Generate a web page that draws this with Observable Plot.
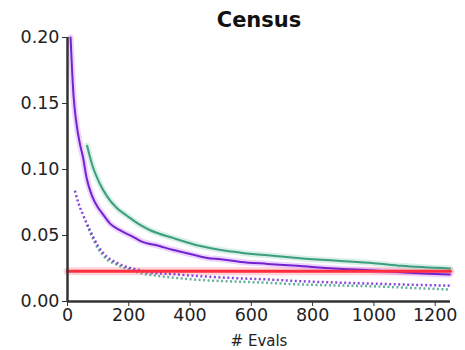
<!DOCTYPE html>
<html><head><meta charset="utf-8">
<script src="https://cdn.jsdelivr.net/npm/d3@7"></script>
<script src="https://cdn.jsdelivr.net/npm/@observablehq/plot@0.6"></script>
<style>body{margin:0;background:#fff}</style>
</head><body><div id="chart"></div>
<script>
const title = "Census";
const xLabel = "# Evals";
const xTicks = [0, 200, 400, 600, 800, 1000, 1200];
const yTicks = [0, 0.05, 0.10, 0.15, 0.20];

const purpleSolidX = [10, 15, 20, 28, 40, 50, 63, 80, 100, 116, 139, 171, 214, 237, 300, 346, 400, 456, 500, 565, 653, 750, 871, 1000, 1100, 1248];
const purpleSolidY = [0.200, 0.175, 0.155, 0.137, 0.120, 0.110, 0.093, 0.080, 0.071, 0.066, 0.059, 0.054, 0.049, 0.046, 0.042, 0.039, 0.036, 0.033, 0.032, 0.030, 0.0285, 0.027, 0.025, 0.0235, 0.022, 0.0205];

const greenSolidX = [64, 80, 106, 128, 160, 194, 237, 270, 346, 434, 500, 565, 653, 750, 871, 1000, 1090, 1248];
const greenSolidY = [0.118, 0.104, 0.089, 0.080, 0.071, 0.065, 0.058, 0.054, 0.048, 0.042, 0.039, 0.037, 0.035, 0.033, 0.031, 0.029, 0.027, 0.025];

const purpleDotX = [24, 35, 50, 73, 100, 128, 155, 183, 230, 270, 330, 401, 480, 565, 653, 750, 871, 1000, 1100, 1248];
const purpleDotY = [0.084, 0.075, 0.066, 0.054, 0.042, 0.034, 0.030, 0.027, 0.024, 0.022, 0.021, 0.0197, 0.0185, 0.0175, 0.0167, 0.0155, 0.0144, 0.0135, 0.0128, 0.012];

const greenDotX = [64, 100, 128, 160, 204, 250, 293, 350, 456, 565, 653, 750, 871, 1000, 1100, 1248];
const greenDotY = [0.058, 0.040, 0.032, 0.028, 0.024, 0.021, 0.0195, 0.018, 0.016, 0.015, 0.0142, 0.013, 0.0122, 0.0115, 0.0105, 0.0091];

const baselineX = [0, 1250];
const baselineY = [0.023, 0.023];

const toRows = (xs, ys) => xs.map((x, i) => ({x, y: ys[i]}));
const pS = toRows(purpleSolidX, purpleSolidY);
const gS = toRows(greenSolidX, greenSolidY);
const pD = toRows(purpleDotX, purpleDotY);
const gD = toRows(greenDotX, greenDotY);
const base = toRows(baselineX, baselineY);

const PURPLE = "#7322d0", GREEN = "#3a9f7e", RED = "#ff2f3f";

const chart = Plot.plot({
  width: 465, height: 350,
  marginLeft: 67, marginRight: 15, marginTop: 37, marginBottom: 49,
  style: {fontFamily: "DejaVu Sans", background: "#fff", overflow: "visible"},
  x: {domain: [0, 1250]},
  y: {domain: [0, 0.2]},
  marks: [
    Plot.line(base, {x: "x", y: "y", stroke: RED, strokeWidth: 8, strokeOpacity: 0.2}),
    Plot.line(gS, {x: "x", y: "y", stroke: GREEN, strokeWidth: 6, strokeOpacity: 0.18, curve: "monotone-x"}),
    Plot.line(pS, {x: "x", y: "y", stroke: "#c070ff", strokeWidth: 6, strokeOpacity: 0.3, curve: "monotone-x"}),
    Plot.line(gD, {x: "x", y: "y", stroke: GREEN, strokeWidth: 2.5, strokeDasharray: "2,2.5", strokeLinecap: "butt", strokeOpacity: 0.8, curve: "monotone-x"}),
    Plot.line(pD, {x: "x", y: "y", stroke: "#7a35d8", strokeWidth: 2.5, strokeDasharray: "2,2.5", strokeLinecap: "butt", strokeOpacity: 0.9, curve: "monotone-x"}),
    Plot.line(gS, {x: "x", y: "y", stroke: GREEN, strokeWidth: 2, curve: "monotone-x"}),
    Plot.line(pS, {x: "x", y: "y", stroke: PURPLE, strokeWidth: 2, curve: "monotone-x"}),
    Plot.line(base, {x: "x", y: "y", stroke: RED, strokeWidth: 3}),
    Plot.axisY({ticks: yTicks, tickFormat: d3.format(".2f"), tickSize: 5, tickPadding: 3, fontSize: 17.5, color: "#222", label: null, stroke: "#333"}),
    Plot.axisX({ticks: xTicks, tickFormat: d => String(d), tickSize: 5, tickPadding: 2, fontSize: 17.5, color: "#222", label: null, stroke: "#333"}),
    Plot.ruleX([0], {stroke: "#333", strokeWidth: 2.5}),
    Plot.ruleY([0], {stroke: "#333", strokeWidth: 2.5}),
    Plot.text([title], {frameAnchor: "top", dy: -25, fontSize: 21, fontWeight: "bold", fill: "#111"}),
    Plot.text([xLabel], {frameAnchor: "bottom", dy: 44, fontSize: 15, fill: "#222"})
  ]
});
document.getElementById("chart").appendChild(chart);
</script>
</body></html>
